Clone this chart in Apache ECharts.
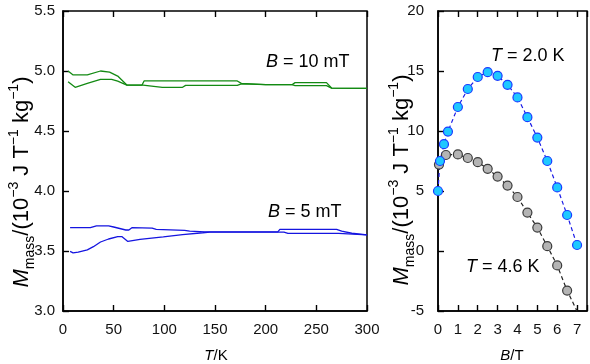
<!DOCTYPE html>
<html>
<head>
<meta charset="utf-8">
<script src="https://cdn.jsdelivr.net/npm/echarts@6/dist/echarts.min.js"></script>
<style>
  html, body { margin: 0; padding: 0; background: #fff; }
  #chart { width: 590px; height: 364px; }
</style>
</head>
<body>
<div id="chart"></div>
<script>
// left panel: M vs T, two sweeps for each field
const tA10 = [5, 10, 24, 37, 46, 54, 63, 79, 98, 118, 121, 172, 176, 200, 226, 229, 260, 265, 300];
const mA10 = [5.0, 4.967, 4.967, 5.0, 4.99, 4.958, 4.883, 4.883, 4.864, 4.864, 4.88, 4.88, 4.893, 4.886, 4.886, 4.878, 4.878, 4.857, 4.855];
const tB10 = [5, 12, 24, 37, 48, 54, 63, 78, 80, 172, 176, 200, 226, 229, 260, 265, 300];
const mB10 = [4.91, 4.864, 4.897, 4.93, 4.93, 4.915, 4.883, 4.883, 4.917, 4.917, 4.897, 4.886, 4.886, 4.903, 4.903, 4.858, 4.855];

const tA5 = [7, 27, 33, 45, 50, 62, 65, 68, 88, 92, 120, 125, 140, 212, 214, 270, 275, 285, 300];
const mA5 = [3.694, 3.694, 3.71, 3.71, 3.70, 3.675, 3.675, 3.694, 3.69, 3.68, 3.672, 3.665, 3.66, 3.66, 3.68, 3.68, 3.665, 3.648, 3.635];
const tB5 = [7, 10, 15, 24, 30, 37, 45, 54, 58, 64, 76, 99, 118, 138, 145, 218, 222, 272, 300];
const mB5 = [3.497, 3.485, 3.49, 3.51, 3.536, 3.575, 3.60, 3.62, 3.62, 3.58, 3.597, 3.617, 3.637, 3.652, 3.658, 3.658, 3.647, 3.647, 3.635];

// right panel: M vs B at two temperatures
const b20 = [0, 0.1, 0.3, 0.5, 1.0, 1.5, 2.0, 2.5, 3.0, 3.5, 4.0, 4.5, 5.0, 5.5, 6.0, 6.5, 7.0];
const m20 = [5.0, 7.5, 8.9, 9.95, 12.0, 13.5, 14.5, 14.9, 14.6, 13.85, 12.8, 11.15, 9.45, 7.5, 5.3, 3.0, 0.5];
const b46 = [0.05, 0.4, 1.0, 1.5, 2.0, 2.5, 3.0, 3.5, 4.0, 4.5, 5.0, 5.5, 6.0, 6.5, 7.2];
const m46 = [7.2, 8.0, 8.05, 7.75, 7.4, 6.85, 6.2, 5.45, 4.5, 3.2, 1.95, 0.4, -1.2, -3.3, -5.7];

const pairs = (xs, ys) => xs.map((x, i) => [x, ys[i]]);

const FONT = '"Liberation Sans", Arial, sans-serif';
const labelStyle = () => ({ color: '#111', fontSize: 15, fontFamily: FONT });
const line = () => ({ show: true, onZero: false, lineStyle: { color: '#000', width: 1.5 } });

const titleRich = {
  i: { fontSize: 22, fontStyle: 'italic', fontFamily: FONT, color: '#111' },
  n: { fontSize: 22, fontFamily: FONT, color: '#111' },
  sub: { fontSize: 14, fontFamily: FONT, color: '#111', verticalAlign: 'bottom', lineHeight: 30 },
  sup: { fontSize: 14, fontFamily: FONT, color: '#111', verticalAlign: 'top', lineHeight: 30 },
};
const titleText = '{i|M}{sub|mass}{n|/(10}{sup|−3}{n| J T}{sup|−1}{n| kg}{sup|−1}{n|)}';
const richOf = (size, c) => ({
  i: { fontSize: size, fontStyle: 'italic', fontFamily: FONT, color: c },
  n: { fontSize: size, fontFamily: FONT, color: c },
});

// inward tick marks: thin strips along the frame, drawn with the axis split lines
const TL = 6;
const tickSplit = { show: true, lineStyle: { color: '#000', width: 1.4 } };
const strip = (grid, min, max, interval) => ({
  gridIndex: grid, type: 'value', min, max, interval,
  axisLine: { show: false }, axisTick: { show: false }, axisLabel: { show: false }, splitLine: tickSplit,
});
const hidden = (grid) => ({ gridIndex: grid, type: 'value', show: false, min: 0, max: 1 });
const box = (left, top, width, height, extra) => ({
  left, top, width, height, outerBoundsMode: 'none', containLabel: false, ...extra,
});

const chart = echarts.init(document.getElementById('chart'));

chart.setOption({
  backgroundColor: '#fff',
  animation: false,
  grid: [
    box(63, 11, 304, 300, { show: true, borderColor: '#000', borderWidth: 1.5, backgroundColor: 'transparent' }),
    box(438, 11, 149, 300, { show: true, borderColor: '#000', borderWidth: 1.5, backgroundColor: 'transparent' }),
    // tick strips: left panel top / bottom / left
    box(63, 11, 304, TL),
    box(63, 311 - TL, 304, TL),
    box(63, 11, TL, 300),
    // tick strips: right panel top / bottom / left
    box(438, 11, 149, TL),
    box(438, 311 - TL, 149, TL),
    box(438, 11, TL, 300),
  ],
  xAxis: [
    {
      gridIndex: 0, type: 'value', min: 0, max: 300, interval: 50,
      axisLine: line(), axisTick: { show: false }, splitLine: { show: false },
      axisLabel: { ...labelStyle(), margin: 11 },
    },
    {
      gridIndex: 1, type: 'value', min: 0, max: 7.5, interval: 1,
      axisLine: line(), axisTick: { show: false }, splitLine: { show: false },
      axisLabel: { ...labelStyle(), margin: 11 },
    },
    strip(2, 0, 300, 50),
    strip(3, 0, 300, 50),
    hidden(4),
    strip(5, 0, 7.5, 1),
    strip(6, 0, 7.5, 1),
    hidden(7),
  ],
  yAxis: [
    {
      gridIndex: 0, type: 'value', min: 3.0, max: 5.5, interval: 0.5,
      axisLine: line(), axisTick: { show: false }, splitLine: { show: false },
      axisLabel: { ...labelStyle(), margin: 8, formatter: (v) => v.toFixed(1) },
    },
    {
      gridIndex: 1, type: 'value', min: -5, max: 20, interval: 5,
      axisLine: line(), axisTick: { show: false }, splitLine: { show: false },
      axisLabel: { ...labelStyle(), margin: 14 },
    },
    hidden(2),
    hidden(3),
    strip(4, 3.0, 5.5, 0.5),
    hidden(5),
    hidden(6),
    strip(7, -5, 20, 5),
  ],
  series: [
    { type: 'line', xAxisIndex: 0, yAxisIndex: 0, data: pairs(tA10, mA10), showSymbol: false, lineStyle: { color: '#138a13', width: 1.3 } },
    { type: 'line', xAxisIndex: 0, yAxisIndex: 0, data: pairs(tB10, mB10), showSymbol: false, lineStyle: { color: '#138a13', width: 1.3 } },
    { type: 'line', xAxisIndex: 0, yAxisIndex: 0, data: pairs(tA5, mA5), showSymbol: false, lineStyle: { color: '#1515e0', width: 1.3 } },
    { type: 'line', xAxisIndex: 0, yAxisIndex: 0, data: pairs(tB5, mB5), showSymbol: false, lineStyle: { color: '#1515e0', width: 1.3 } },
    {
      type: 'line', xAxisIndex: 1, yAxisIndex: 1, data: pairs(b46, m46), clip: true,
      symbol: 'circle', symbolSize: 9,
      lineStyle: { color: '#222', width: 1.2, type: [4, 3] },
      itemStyle: { color: '#b4b4b4', borderColor: '#3a3a3a', borderWidth: 1.2 },
    },
    {
      type: 'line', xAxisIndex: 1, yAxisIndex: 1, data: pairs(b20, m20), clip: true,
      symbol: 'circle', symbolSize: 9,
      lineStyle: { color: '#1a1ae6', width: 1.2, type: [4, 3] },
      itemStyle: { color: '#1ec8ff', borderColor: '#1a3cff', borderWidth: 1.2 },
    },
  ],
  graphic: [
    { type: 'text', x: 22, y: 182, rotation: Math.PI / 2,
      style: { text: titleText, rich: titleRich, align: 'center', verticalAlign: 'middle' } },
    { type: 'text', x: 402, y: 180, rotation: Math.PI / 2,
      style: { text: titleText, rich: titleRich, align: 'center', verticalAlign: 'middle' } },
    { type: 'text', x: 216, y: 356,
      style: { text: '{i|T}{n|/K}', align: 'center', verticalAlign: 'middle', rich: richOf(15, '#111') } },
    { type: 'text', x: 512, y: 356,
      style: { text: '{i|B}{n|/T}', align: 'center', verticalAlign: 'middle', rich: richOf(15, '#111') } },
    { type: 'text', x: 266, y: 62,
      style: { text: '{i|B}{n| = 10 mT}', align: 'left', verticalAlign: 'middle', rich: richOf(18, '#111') } },
    { type: 'text', x: 268, y: 212,
      style: { text: '{i|B}{n| = 5 mT}', align: 'left', verticalAlign: 'middle', rich: richOf(18, '#111') } },
    { type: 'text', x: 491, y: 56,
      style: { text: '{i|T}{n| = 2.0 K}', align: 'left', verticalAlign: 'middle', rich: richOf(18, '#2525c8') } },
    { type: 'text', x: 466, y: 267,
      style: { text: '{i|T}{n| = 4.6 K}', align: 'left', verticalAlign: 'middle', rich: richOf(18, '#111') } },
  ],
});

window.addEventListener('resize', () => chart.resize());
</script>
</body>
</html>
